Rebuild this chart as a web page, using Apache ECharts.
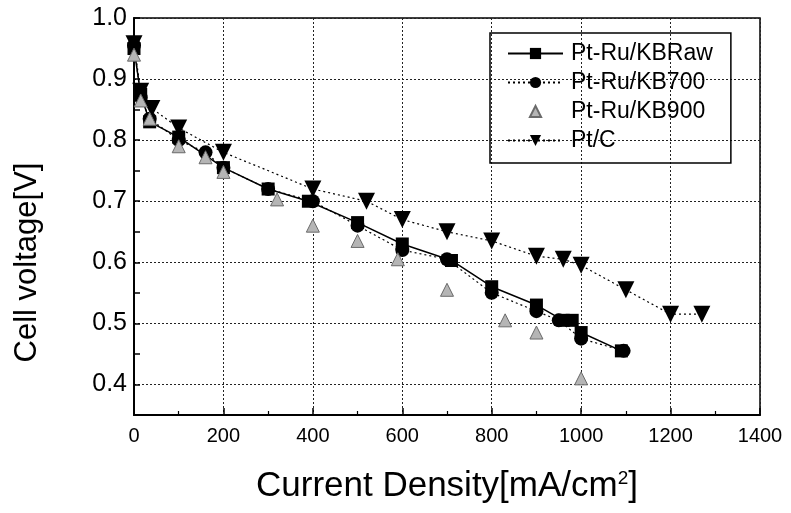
<!DOCTYPE html>
<html>
<head>
<meta charset="utf-8">
<script src="https://cdn.jsdelivr.net/npm/echarts@6/dist/echarts.min.js"></script>
<style>html,body{margin:0;padding:0;background:#fff;}#c{width:791px;height:513px;}</style>
</head>
<body>
<div id="c"></div>
<script>
const seriesNames = ['Pt-Ru/KBRaw', 'Pt-Ru/KB700', 'Pt-Ru/KB900', 'Pt/C'];
const rawData = [[0,0.95],[15,0.875],[35,0.83],[100,0.805],[200,0.755],[300,0.72],[390,0.70],[500,0.665],[600,0.63],[710,0.603],[800,0.56],[900,0.53],[960,0.505],[980,0.505],[1000,0.485],[1090,0.455]];
const kb700Data = [[0,0.955],[15,0.87],[35,0.835],[100,0.80],[160,0.78],[200,0.755],[300,0.72],[400,0.70],[500,0.66],[600,0.62],[700,0.605],[800,0.55],[900,0.52],[950,0.505],[1000,0.475],[1095,0.455]];
const kb900Data = [[0,0.94],[15,0.865],[35,0.835],[100,0.79],[160,0.772],[200,0.748],[320,0.703],[400,0.66],[500,0.635],[590,0.605],[700,0.555],[830,0.505],[900,0.485],[1000,0.41]];
const ptcData = [[0,0.958],[15,0.88],[40,0.852],[100,0.82],[200,0.78],[400,0.72],[520,0.70],[600,0.67],[700,0.65],[800,0.635],[900,0.61],[960,0.605],[1000,0.595],[1100,0.555],[1200,0.515],[1270,0.515]];
const xTicks = [0, 1400, 200];
const yTicks = [0.35, 1.0, 0.05];

const FONT = 'Liberation Sans, Arial, sans-serif';
const chart = echarts.init(document.getElementById('c'));
chart.setOption({
  animation: false,
  backgroundColor: '#fff',
  textStyle: { fontFamily: FONT },
  grid: { left: 134, right: 31, top: 18, bottom: 98, show: true, borderColor: '#000', borderWidth: 1.5, backgroundColor: 'transparent' },
  legend: {
    orient: 'vertical', left: 490, top: 33,
    padding: [9, 18, 11, 17],
    itemGap: 6,
    itemWidth: 55, itemHeight: 14,
    borderColor: '#000', borderWidth: 1.5,
    textStyle: { fontSize: 23, color: '#000', fontFamily: FONT, padding: [0, 0, 0, 3] },
    data: seriesNames
  },
  xAxis: {
    type: 'value', min: xTicks[0], max: xTicks[1], interval: xTicks[2],
    name: 'Current Density[mA/cm{sup|2}]',
    nameLocation: 'middle', nameGap: 54,
    nameTextStyle: { fontSize: 35, color: '#000', fontFamily: FONT, rich: { sup: { fontSize: 19, fontFamily: FONT, verticalAlign: 'top', padding: [0, 0, 16, 0], color: '#000' } } },
    axisLine: { lineStyle: { color: '#000', width: 2 } },
    axisTick: { inside: true, length: 7, lineStyle: { color: '#000', width: 1.5 } },
    minorTick: { show: true, splitNumber: 2, length: 4, lineStyle: { color: '#000', width: 1.2 } },
    axisLabel: { fontSize: 20, color: '#000', margin: 11, fontFamily: FONT, formatter: function (v) { return String(v); } },
    splitLine: { show: true, lineStyle: { color: '#222', type: [2, 2], width: 1 } }
  },
  yAxis: {
    type: 'value', min: yTicks[0], max: yTicks[1], interval: yTicks[2],
    name: 'Cell voltage[V]',
    nameLocation: 'middle', nameGap: 91,
    nameTextStyle: { fontSize: 31, color: '#000', fontFamily: FONT, padding: [0, 92, 0, 0] },
    axisLine: { lineStyle: { color: '#000', width: 2 } },
    axisTick: { inside: true, length: 6, lineStyle: { color: '#000', width: 1.5 } },
    axisLabel: {
      fontSize: 25, color: '#000', margin: 7, fontFamily: FONT,
      formatter: function (v) {
        const t = Math.round(v * 100);
        return (t % 10 === 0) ? (t / 100).toFixed(1) : '';
      }
    },
    splitLine: { show: true, showMinLine: true, showMaxLine: true, lineStyle: { color: ['rgba(0,0,0,0)', '#222'], type: [2, 2], width: 1 } }
  },
  series: [
    {
      name: seriesNames[0], type: 'line', data: rawData,
      symbol: 'rect', symbolSize: 13,
      itemStyle: { color: '#000' },
      lineStyle: { color: '#000', width: 1.5, type: 'solid' }, z: 4
    },
    {
      name: seriesNames[1], type: 'line', data: kb700Data,
      symbol: 'circle', symbolSize: 14,
      itemStyle: { color: '#000' },
      lineStyle: { color: '#000', width: 1.2, type: [2, 3] }, z: 3
    },
    {
      name: seriesNames[2], type: 'line', data: kb900Data,
      symbol: 'triangle', symbolSize: 13,
      itemStyle: { color: '#b5b5b5', borderColor: '#6a6a6a', borderWidth: 1 },
      lineStyle: { opacity: 0, width: 0 }, z: 5
    },
    {
      name: seriesNames[3], type: 'line', data: ptcData,
      symbol: 'triangle', symbolRotate: 180, symbolSize: 17,
      itemStyle: { color: '#000' },
      lineStyle: { color: '#000', width: 1.2, type: [2, 3] }, z: 2
    }
  ]
});
</script>
</body>
</html>
